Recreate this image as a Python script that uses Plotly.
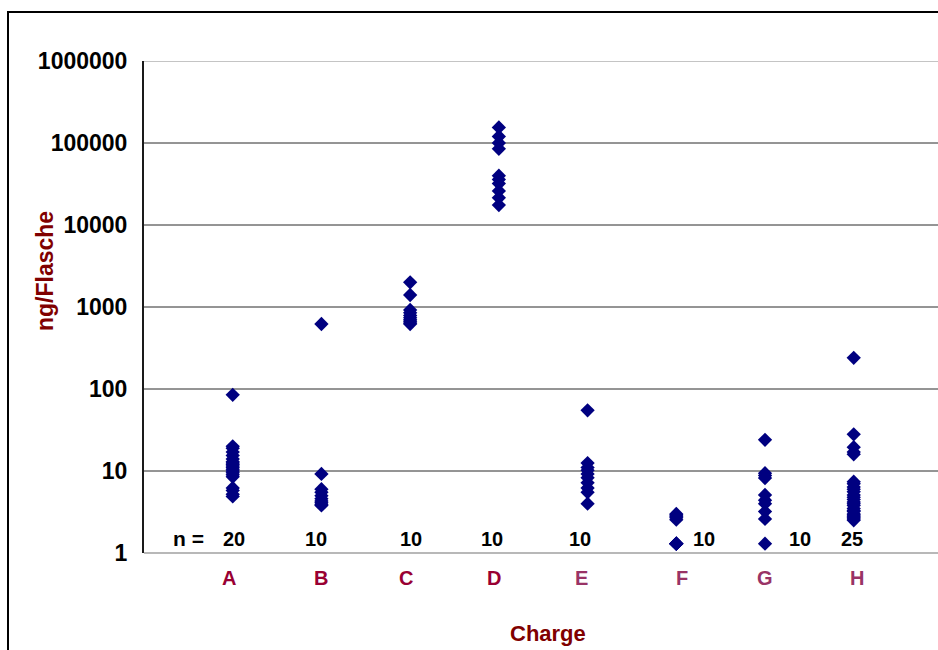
import math
import plotly.graph_objects as go

categories = ["A", "B", "C", "D", "E", "F", "G", "H"]
n_labels = ["20", "10", "10", "10", "10", "10", "10", "25"]

values_A = [85, 20, 19, 17, 15.5, 14, 13, 12.5, 12, 11.5, 11, 10.5, 10, 9.5, 9, 8.5, 6.2, 5.8, 5.2, 4.9]
values_B = [620, 9.2, 6.0, 5.5, 5.0, 4.6, 4.3, 4.1, 3.9, 3.8]
values_C = [2000, 1400, 920, 850, 790, 740, 700, 670, 640, 620]
values_D = [155000, 120000, 100000, 85000, 40000, 36000, 32000, 26000, 21500, 17500]
values_E = [55, 12.5, 11, 10.2, 9.2, 8.3, 7.2, 6.2, 5.5, 4.0]
values_F = [3.0, 2.9, 2.8, 2.7, 2.55, 1.3, 1.3, 1.3, 1.3, 1.3]
values_G = [24, 9.4, 8.8, 8.2, 5.1, 4.4, 4.0, 3.2, 2.6, 1.3]
values_H = [240, 28, 19.5, 17, 16, 7.4, 7.0, 6.4, 6.0, 5.6, 5.1, 4.8, 4.5, 4.2, 4.0, 3.8, 3.5, 3.3, 3.2, 3.0, 2.9, 2.8, 2.7, 2.6, 2.5]

series = [values_A, values_B, values_C, values_D, values_E, values_F, values_G, values_H]

y_tick_vals = [1, 10, 100, 1000, 10000, 100000, 1000000]
y_tick_text = ["1", "10", "100", "1000", "10000", "100000", "1000000"]

# styling / placement (pixel shifts, not data)
letter_xshift = [-4, 0, -4, -5, -6, 6, 0, 3]
n_xshift = [1, -5, 1, -7, -8, 28, 35, -2]
letter_colors = ["#990033", "#990033", "#990033", "#990033", "#993366", "#993366", "#993366", "#993366"]

FONT = "Liberation Sans, Arial, sans-serif"
PLOT_W = 938 - 144
PLOT_H = 553 - 61

xs, ys = [], []
for i, vals in enumerate(series):
    for v in vals:
        xs.append(i + 1)
        ys.append(v)

fig = go.Figure()
fig.add_trace(go.Scatter(
    x=xs, y=ys, mode="markers",
    marker=dict(symbol="diamond", size=11, color="#000080", line=dict(width=0)),
    showlegend=False, hoverinfo="y", cliponaxis=False,
))

annotations = []
for i, c in enumerate(categories):
    annotations.append(dict(
        x=i + 1, y=-(578 - 553) / PLOT_H, xref="x", yref="paper", text="<b>%s</b>" % c,
        showarrow=False, xshift=letter_xshift[i], yanchor="middle",
        font=dict(family=FONT, size=20, color=letter_colors[i]),
    ))
    annotations.append(dict(
        x=i + 1, y=math.log10(1.5), xref="x", yref="y", text="<b>%s</b>" % n_labels[i],
        showarrow=False, xshift=n_xshift[i], yanchor="middle",
        font=dict(family=FONT, size=20, color="#000000"),
    ))
annotations.append(dict(
    x=0.5, y=math.log10(1.5), xref="x", yref="y", text="<b>n =</b>",
    showarrow=False, xshift=0, yanchor="middle",
    font=dict(family=FONT, size=21, color="#000000"),
))
annotations.append(dict(
    x=(548 - 144) / PLOT_W, y=-(633 - 553) / PLOT_H, xref="paper", yref="paper",
    text="<b>Charge</b>", showarrow=False, xanchor="center", yanchor="middle",
    font=dict(family=FONT, size=22, color="#800000"),
))
annotations.append(dict(
    x=(45 - 144) / PLOT_W, y=(553 - 271) / PLOT_H, xref="paper", yref="paper",
    text="<b>ng/Flasche</b>", showarrow=False, xanchor="center", yanchor="middle",
    textangle=-90,
    font=dict(family=FONT, size=23, color="#800000"),
))

shapes = []
# horizontal gridlines at the tick values, spanning the full plot width
for tv in y_tick_vals[1:]:
    shapes.append(dict(
        type="line", xref="paper", yref="y", x0=0, x1=1.05, y0=tv, y1=tv,
        line=dict(color="#8a8a8a" if tv == y_tick_vals[-1] else "#2a2a2a", width=1),
        layer="below",
    ))
# bottom axis line
shapes.append(dict(
    type="line", xref="paper", yref="paper", x0=0, x1=1.1, y0=0, y1=0,
    line=dict(color="#a0a0a0", width=1.5), layer="above",
))
# outer frame
shapes.append(dict(
    type="rect", xref="paper", yref="paper",
    x0=(8 - 144) / PLOT_W, x1=1.2, y0=-0.4, y1=(553 - 12) / PLOT_H,
    line=dict(color="#000000", width=2), fillcolor="rgba(0,0,0,0)", layer="above",
))

fig.update_layout(
    width=938, height=650,
    margin=dict(l=144, r=0, t=61, b=97, autoexpand=False),
    paper_bgcolor="white", plot_bgcolor="white",
    annotations=annotations,
    shapes=shapes,
    xaxis=dict(
        range=[0, 8.95], showgrid=False, zeroline=False,
        showticklabels=False, ticks="", showline=False,
    ),
    yaxis=dict(
        type="log", range=[0, 6],
        tickvals=y_tick_vals, ticktext=["<b>%s</b>" % t for t in y_tick_text],
        tickfont=dict(family=FONT, size=23, color="#000000"),
        showgrid=False,
        showline=True, linecolor="#1a1a1a", linewidth=2,
        ticks="", ticklabelstandoff=10, zeroline=False,
    ),
)

fig.write_html("out.html")
